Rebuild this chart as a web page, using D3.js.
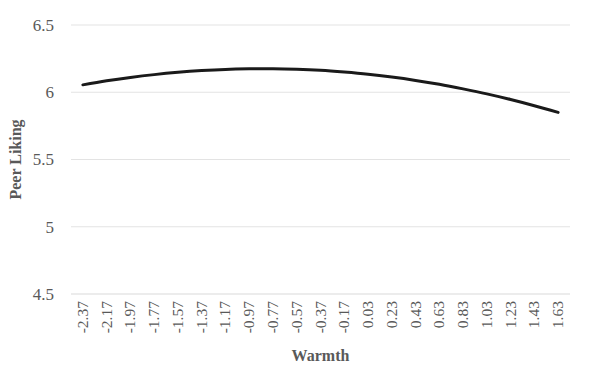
<!DOCTYPE html>
<html><head><meta charset="utf-8">
<script src="https://cdn.jsdelivr.net/npm/d3@7/dist/d3.min.js"></script>
<style>body{margin:0;background:#fff}svg{display:block}</style>
</head><body><svg id="c" width="590" height="367" font-family="'Liberation Serif', 'DejaVu Serif', serif"></svg>
<script>
const categories = ["-2.37","-2.17","-1.97","-1.77","-1.57","-1.37","-1.17","-0.97","-0.77","-0.57","-0.37","-0.17","0.03","0.23","0.43","0.63","0.83","1.03","1.23","1.43","1.63"];
const peerLiking = [6.055,6.085,6.11,6.131,6.148,6.161,6.17,6.174,6.175,6.171,6.163,6.15,6.134,6.113,6.088,6.059,6.025,5.988,5.946,5.90,5.85];
const yTicks = [4.5,5,5.5,6,6.5];

const svg = d3.select("#c");
const m = {l:71, r:20, t:25, b:73};
const W = 590, H = 367;
const x = d3.scaleBand().domain(categories).range([m.l, W - m.r]);
const y = d3.scaleLinear().domain([4.5,6.5]).range([H - m.b, m.t]);
const gray = "#595959";

svg.append("g").selectAll("line").data(yTicks).join("line")
  .attr("x1", m.l).attr("x2", W - m.r)
  .attr("y1", d => y(d)).attr("y2", d => y(d))
  .attr("stroke", d => d === 4.5 ? "#d9d9d9" : "#e3e3e3").attr("stroke-width", 1);

svg.append("g").selectAll("text").data(yTicks).join("text")
  .attr("x", m.l - 17).attr("y", d => y(d)).attr("dy", "0.35em")
  .attr("text-anchor", "end").attr("font-size", 17).attr("fill", gray)
  .text(d => d3.format("")(d));

svg.append("g").selectAll("text").data(categories).join("text")
  .attr("transform", d => `translate(${x(d) + x.bandwidth()/2 + 5},${y(4.5) + 7}) rotate(-90)`)
  .attr("text-anchor", "end").attr("font-size", 15.5).attr("fill", gray)
  .text(d => d);

const line = d3.line().x((d,i) => x(categories[i]) + x.bandwidth()/2).y(d => y(d)).curve(d3.curveCatmullRom);
svg.append("path").datum(peerLiking).attr("d", line)
  .attr("fill", "none").attr("stroke", "#1a1a1a").attr("stroke-width", 3).attr("stroke-linecap", "round");

svg.append("text").attr("x", (m.l + W - m.r)/2).attr("y", 361)
  .attr("text-anchor", "middle").attr("font-size", 16).attr("font-weight", "bold").attr("fill", gray).text("Warmth");
svg.append("text").attr("transform", `translate(21,${(m.t + H - m.b)/2}) rotate(-90)`)
  .attr("text-anchor", "middle").attr("font-size", 16).attr("font-weight", "bold").attr("fill", gray).text("Peer Liking");
</script></body></html>
